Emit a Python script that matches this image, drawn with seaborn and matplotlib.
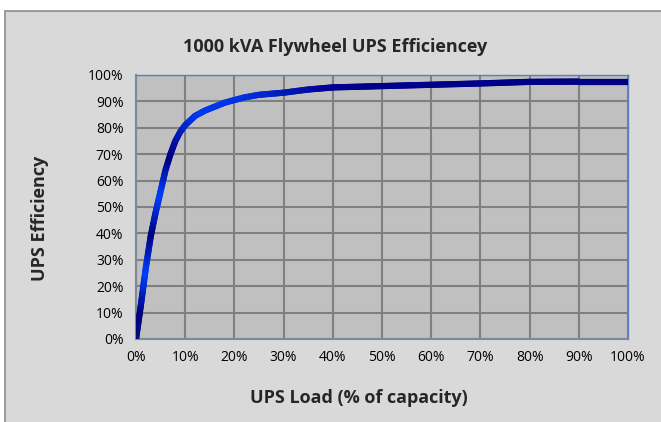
import numpy as np
import matplotlib
matplotlib.use("Agg")
import matplotlib.pyplot as plt
import seaborn as sns
import pandas as pd
from matplotlib.collections import LineCollection
from matplotlib.colors import LinearSegmentedColormap
from matplotlib.patches import Rectangle
from matplotlib.ticker import PercentFormatter

# Data (load % vs efficiency %)
load_pct = [0, 1, 2, 3, 4, 5, 6, 7, 8, 9, 10, 12, 14, 16, 18, 20, 22, 25,
            30, 35, 40, 50, 60, 70, 80, 90, 100]
efficiency_pct = [0, 13, 27, 39, 48, 56, 64, 70, 75, 78.5, 81, 84.5, 86.5, 88,
                  89.5, 90.5, 91.5, 92.5, 93.3, 94.5, 95.3, 95.8, 96.3, 96.8,
                  97.4, 97.5, 97.5]
tick_vals = [0, 10, 20, 30, 40, 50, 60, 70, 80, 90, 100]

title = "1000 kVA Flywheel UPS Efficiencey"
x_label = "UPS Load (% of capacity)"
y_label = "UPS Efficiency"

df = pd.DataFrame({"load": load_pct, "eff": efficiency_pct})

sns.set_theme(style="white")
plt.rcParams["font.family"] = ["Open Sans", "DejaVu Sans"]

fig = plt.figure(figsize=(6.61, 4.22), dpi=100)
fig.patch.set_facecolor("white")
# grey chart panel
fig.patches.append(Rectangle((5 / 661, -0.05), 1.0, 1 - 11 / 422 + 0.05,
                             transform=fig.transFigure, facecolor="#d9d9d9",
                             edgecolor="#8c8c8c", linewidth=1.2, zorder=-1))

ax = fig.add_axes([136 / 661, 1 - 339 / 422, (628 - 136) / 661, (339 - 75) / 422])
ax.set_facecolor("#c0c0c0")

sns.lineplot(data=df, x="load", y="eff", ax=ax, color="#000080", linewidth=4.5,
             zorder=3)

# gradient colouring along the curve
line = ax.lines[0]
xy = line.get_xydata()
disp = ax.transData.transform(xy)
seglen = np.hypot(np.diff(disp[:, 0]), np.diff(disp[:, 1]))
cum = np.concatenate([[0], np.cumsum(seglen)])
pts = []
for i in range(len(xy) - 1):
    n = max(2, int(seglen[i] / 2))
    for t in np.linspace(0, 1, n, endpoint=False):
        pts.append((xy[i] + t * (xy[i + 1] - xy[i]), cum[i] + t * seglen[i]))
pts.append((xy[-1], cum[-1]))
p = np.array([q[0] for q in pts])
s = np.array([q[1] for q in pts])
segs = np.stack([p[:-1], p[1:]], axis=1)
cmap = LinearSegmentedColormap.from_list(
    "grad", [(0.0, "#00107a"), (0.04, "#000080"), (0.10, "#0040ff"),
             (0.16, "#000080"), (0.22, "#0040ff"), (0.28, "#000080"),
             (0.36, "#0038f0"), (0.44, "#0030dd"), (0.56, "#000090"),
             (1.0, "#000080")])
lc = LineCollection(segs, colors=cmap(s[:-1] / s[-1]), linewidths=4.5,
                    capstyle="round", joinstyle="round", zorder=4)
ax.add_collection(lc)
line.set_visible(False)

ax.set_xlim(0, 100)
ax.set_ylim(0, 100)
ax.set_xticks(tick_vals)
ax.set_yticks(tick_vals)
ax.xaxis.set_major_formatter(PercentFormatter(decimals=0))
ax.yaxis.set_major_formatter(PercentFormatter(decimals=0))
ax.grid(True, color="#808080", linewidth=1.5)
ax.set_axisbelow(True)
ax.tick_params(axis="both", length=0, labelsize=10, labelcolor="black")
ax.tick_params(axis="x", pad=8)
ax.tick_params(axis="y", pad=9)
for side in ["top", "right"]:
    ax.spines[side].set_color("#5b7fbf")
    ax.spines[side].set_linewidth(1)
for side in ["left", "bottom"]:
    ax.spines[side].set_color("#7f8a99")
    ax.spines[side].set_linewidth(1.5)

ax.set_xlabel("")
ax.set_ylabel("")
fig.text(359 / 661, 1 - 398 / 422, x_label, ha="center", va="center",
         fontsize=13, fontweight="bold")
fig.text(40 / 661, 1 - 218 / 422, y_label, ha="center", va="center",
         rotation=90, fontsize=13, fontweight="bold")
fig.text(335 / 661, 1 - 47 / 422, title, ha="center", va="center",
         fontsize=13, fontweight="bold")

fig.savefig("out.png", dpi=100)
